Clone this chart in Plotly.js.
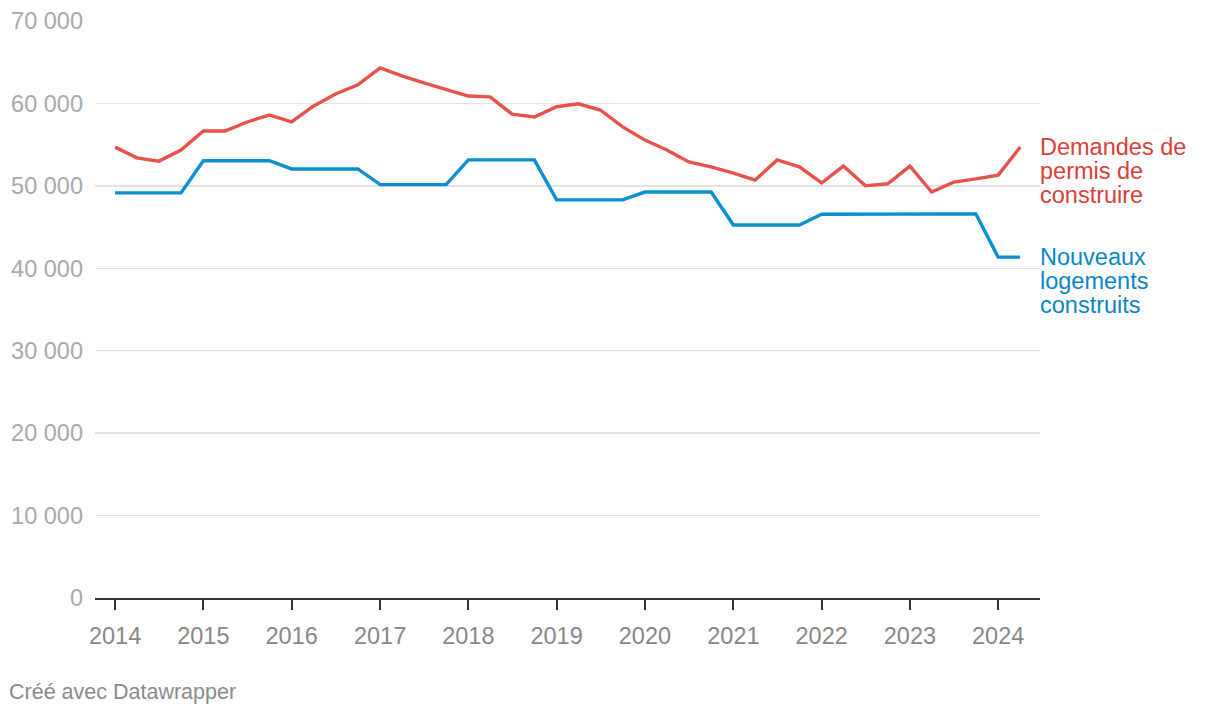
<!DOCTYPE html>
<html>
<head>
<meta charset="utf-8">
<script src="https://cdn.plot.ly/plotly-3.0.1.min.js"></script>
<style>
html,body{margin:0;padding:0;background:#fff;}
#chart{width:1220px;height:716px;}
</style>
</head>
<body>
<div id="chart"></div>
<script>
const dates = [
  "2014-01-01","2014-04-01","2014-07-01","2014-10-01",
  "2015-01-01","2015-04-01","2015-07-01","2015-10-01",
  "2016-01-01","2016-04-01","2016-07-01","2016-10-01",
  "2017-01-01","2017-04-01","2017-07-01","2017-10-01",
  "2018-01-01","2018-04-01","2018-07-01","2018-10-01",
  "2019-01-01","2019-04-01","2019-07-01","2019-10-01",
  "2020-01-01","2020-04-01","2020-07-01","2020-10-01",
  "2021-01-01","2021-04-01","2021-07-01","2021-10-01",
  "2022-01-01","2022-04-01","2022-07-01","2022-10-01",
  "2023-01-01","2023-04-01","2023-07-01","2023-10-01",
  "2024-01-01","2024-04-01"
];
const permisDemandes = [
  54700, 53400, 53000, 54350,
  56650, 56650, 57750, 58600,
  57750, 59700, 61150, 62250,
  64300, 63350, 62500, 61750,
  60900, 60800, 58700, 58350,
  59600, 59950, 59200, 57150,
  55550, 54350, 52900, 52300,
  51550, 50700, 53150, 52300,
  50350, 52400, 50000, 50250,
  52400, 49250, 50450, 50850,
  51300, 54700
];
const logementsConstruits = [
  49150, 49150, 49150, 49150,
  53050, 53050, 53050, 53050,
  52050, 52050, 52050, 52050,
  50150, 50150, 50150, 50150,
  53150, 53150, 53150, 53150,
  48300, 48300, 48300, 48300,
  49250, 49250, 49250, 49250,
  45250, 45250, 45250, 45250,
  46550, 46550, 46550, 46600,
  46600, 46600, 46600, 46600,
  41350, 41350
];
const seriesNames = ["Demandes de permis de construire", "Nouveaux logements construits"];
const labelLines = [["Demandes de", "permis de", "construire"], ["Nouveaux", "logements", "construits"]];
const yTicks = [0, 10000, 20000, 30000, 40000, 50000, 60000, 70000];

const lineColors = ["#e9524a", "#0a8fd1"];
const textColors = ["#d9403a", "#0a86c6"];
const FONT = "Liberation Sans, Arial, Helvetica, sans-serif";

const traces = [permisDemandes, logementsConstruits].map((vals, i) => ({
  x: dates,
  y: vals,
  type: "scatter",
  mode: "lines",
  name: seriesNames[i],
  line: {color: lineColors[i], width: 3.4},
  hoverinfo: "skip"
}));

const lastVals = [permisDemandes[permisDemandes.length - 1], logementsConstruits[logementsConstruits.length - 1]];
const annotations = [];
labelLines.forEach((lines, i) => {
  lines.forEach((txt, j) => {
    annotations.push({
      xref: "paper", yref: "y",
      x: 1, y: lastVals[i],
      xanchor: "left", yanchor: "middle",
      xshift: -2, yshift: -24 * j,
      text: txt, showarrow: false,
      font: {family: FONT, size: 23.5, color: textColors[i]}
    });
  });
});
annotations.push({
  xref: "paper", yref: "paper",
  x: -0.093, y: -0.163,
  xanchor: "left", yanchor: "middle",
  text: "Créé avec Datawrapper", showarrow: false,
  font: {family: FONT, size: 21.5, color: "#8c8c8c"}
});

const layout = {
  width: 1220, height: 716,
  margin: {l: 95, r: 180, t: 21, b: 118, pad: 0},
  paper_bgcolor: "#ffffff",
  plot_bgcolor: "#ffffff",
  showlegend: false,
  hovermode: false,
  separators: ", ",
  font: {family: FONT},
  xaxis: {
    type: "date",
    range: ["2013-10-10", "2024-06-22"],
    tickformat: "%Y",
    dtick: "M12",
    tick0: "2014-01-01",
    showgrid: false,
    zeroline: false,
    showline: true,
    linecolor: "#333333",
    linewidth: 2,
    ticks: "outside",
    ticklen: 10,
    tickwidth: 2,
    tickcolor: "#333333",
    ticklabelstandoff: 6,
    tickfont: {family: FONT, size: 23.5, color: "#888888"}
  },
  yaxis: {
    range: [0, 70000],
    tickvals: yTicks,
    tickformat: ",d",
    showgrid: true,
    gridcolor: "#e3e3e3",
    gridwidth: 1.3,
    zeroline: false,
    showline: false,
    ticks: "",
    ticklabelstandoff: 11,
    tickfont: {family: FONT, size: 23.5, color: "#aaaaaa"}
  },
  annotations: annotations
};

Plotly.newPlot("chart", traces, layout, {displayModeBar: false, staticPlot: true});
</script>
</body>
</html>
